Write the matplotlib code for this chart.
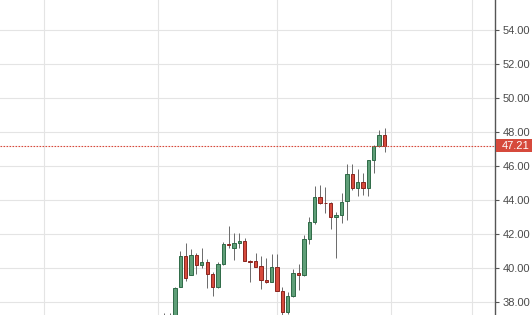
import numpy as np
import matplotlib.pyplot as plt
from matplotlib.patches import Rectangle
import matplotlib.transforms as mtransforms

plt.rcParams['font.family'] = ['Liberation Sans', 'DejaVu Sans']

# daily OHLC, oldest first (first two candles sit below the visible range)
opens  = [36.80, 37.00, 37.10, 38.90, 40.75, 39.64, 40.78, 40.19, 40.36, 39.66,
          38.89, 40.25, 41.42, 41.19, 41.48, 41.64, 40.46, 40.44, 40.13, 39.31,
          39.22, 40.07, 38.68, 37.46, 38.38, 39.72, 39.60, 41.72, 42.72, 44.19,
          43.86, 43.84, 43.01, 43.15, 43.97, 45.56, 44.72, 45.11, 44.72, 46.38,
          47.21, 47.85]
highs  = [37.35, 37.40, 38.90, 41.03, 41.52, 41.16, 40.91, 41.19, 40.54, 39.81,
          40.40, 41.58, 42.52, 42.09, 42.07, 41.78, 40.50, 40.93, 40.75, 40.64,
          40.87, 40.85, 38.93, 38.60, 39.95, 40.26, 41.95, 43.01, 44.85, 44.91,
          44.78, 43.88, 43.34, 44.46, 46.13, 46.13, 45.84, 45.60, 46.40, 47.25,
          48.15, 48.25]
lows   = [36.50, 36.60, 36.90, 38.88, 39.28, 39.60, 39.66, 40.00, 38.84, 38.38,
          38.85, 40.22, 41.20, 40.50, 41.20, 40.44, 39.22, 40.08, 38.78, 39.15,
          39.18, 38.66, 37.20, 37.30, 38.30, 38.74, 39.55, 41.42, 42.60, 43.80,
          43.25, 42.31, 40.60, 42.66, 42.85, 44.60, 44.26, 44.30, 44.26, 45.60,
          47.15, 46.84]
closes = [37.00, 36.90, 38.87, 40.75, 39.42, 40.78, 40.21, 40.36, 39.66, 38.89,
          40.25, 41.42, 41.38, 41.48, 41.64, 40.46, 40.36, 40.11, 39.31, 39.19,
          40.07, 38.68, 37.46, 38.38, 39.72, 39.60, 41.72, 42.72, 44.19, 43.84,
          43.82, 43.01, 43.15, 43.93, 45.56, 44.72, 45.11, 44.72, 46.38, 47.21,
          47.85, 47.21]
last_price = 47.21
price_ticks = [38, 40, 42, 44, 46, 48, 50, 52, 54]
month_lines = [-22.3, -1.24, 21.0, 42.16, 57.2]

green, green_edge = '#5f9f78', '#2f6a47'
red, red_edge = '#d64a3c', '#8a2620'
axis_col = '#555555'

o = np.array(opens); h = np.array(highs); l = np.array(lows); c = np.array(closes)
x = np.arange(len(o))
up = c >= o

fig = plt.figure(figsize=(5.32, 3.15), dpi=100)
ax = fig.add_axes([0, 0, 495 / 532, 1])

ax.set_xlim(-30.55, 61.56)
ax.set_ylim(37.26, 55.79)

for v in month_lines:
    ax.axvline(v, color='#e4e4e4', lw=0.8, zorder=0)
for p in price_ticks:
    ax.axhline(p, color='#e4e4e4', lw=0.8, zorder=0)

ax.vlines(x, l, h, color='#6a6a6a', lw=0.7, zorder=2)
body_lo = np.minimum(o, c)
body_h = np.maximum(np.abs(c - o), 0.04)
ax.bar(x[up], body_h[up], bottom=body_lo[up], width=0.62,
       color=green, edgecolor=green_edge, linewidth=0.7, zorder=3)
ax.bar(x[~up], body_h[~up], bottom=body_lo[~up], width=0.62,
       color=red, edgecolor=red_edge, linewidth=0.7, zorder=3)

ax.axhline(last_price, color=red, lw=0.8, ls=(0, (1.5, 1.2)), zorder=4)

for s in ['top', 'left', 'bottom']:
    ax.spines[s].set_visible(False)
ax.spines['right'].set_color(axis_col)
ax.spines['right'].set_linewidth(1.0)
ax.set_xticks([])
ax.yaxis.tick_right()
ax.set_yticks(price_ticks)
ax.set_yticklabels(['%.2f' % p for p in price_ticks])
ax.tick_params(axis='y', colors=axis_col, labelcolor='#4a4a4a', length=3,
               width=0.8, pad=2.5, labelsize=8)

# last price tag on the axis
trans = mtransforms.blended_transform_factory(ax.transAxes, ax.transData)
ax.add_patch(Rectangle((1.002, last_price - 0.38), 0.075, 0.76, transform=trans,
                       facecolor=red, edgecolor='none', clip_on=False, zorder=5))
ax.text(1 + 6.7 / 495, last_price, '%.2f' % last_price, transform=trans,
        color='white', fontsize=8, ha='left', va='center', clip_on=False, zorder=6)

fig.savefig('out.png', dpi=100)
